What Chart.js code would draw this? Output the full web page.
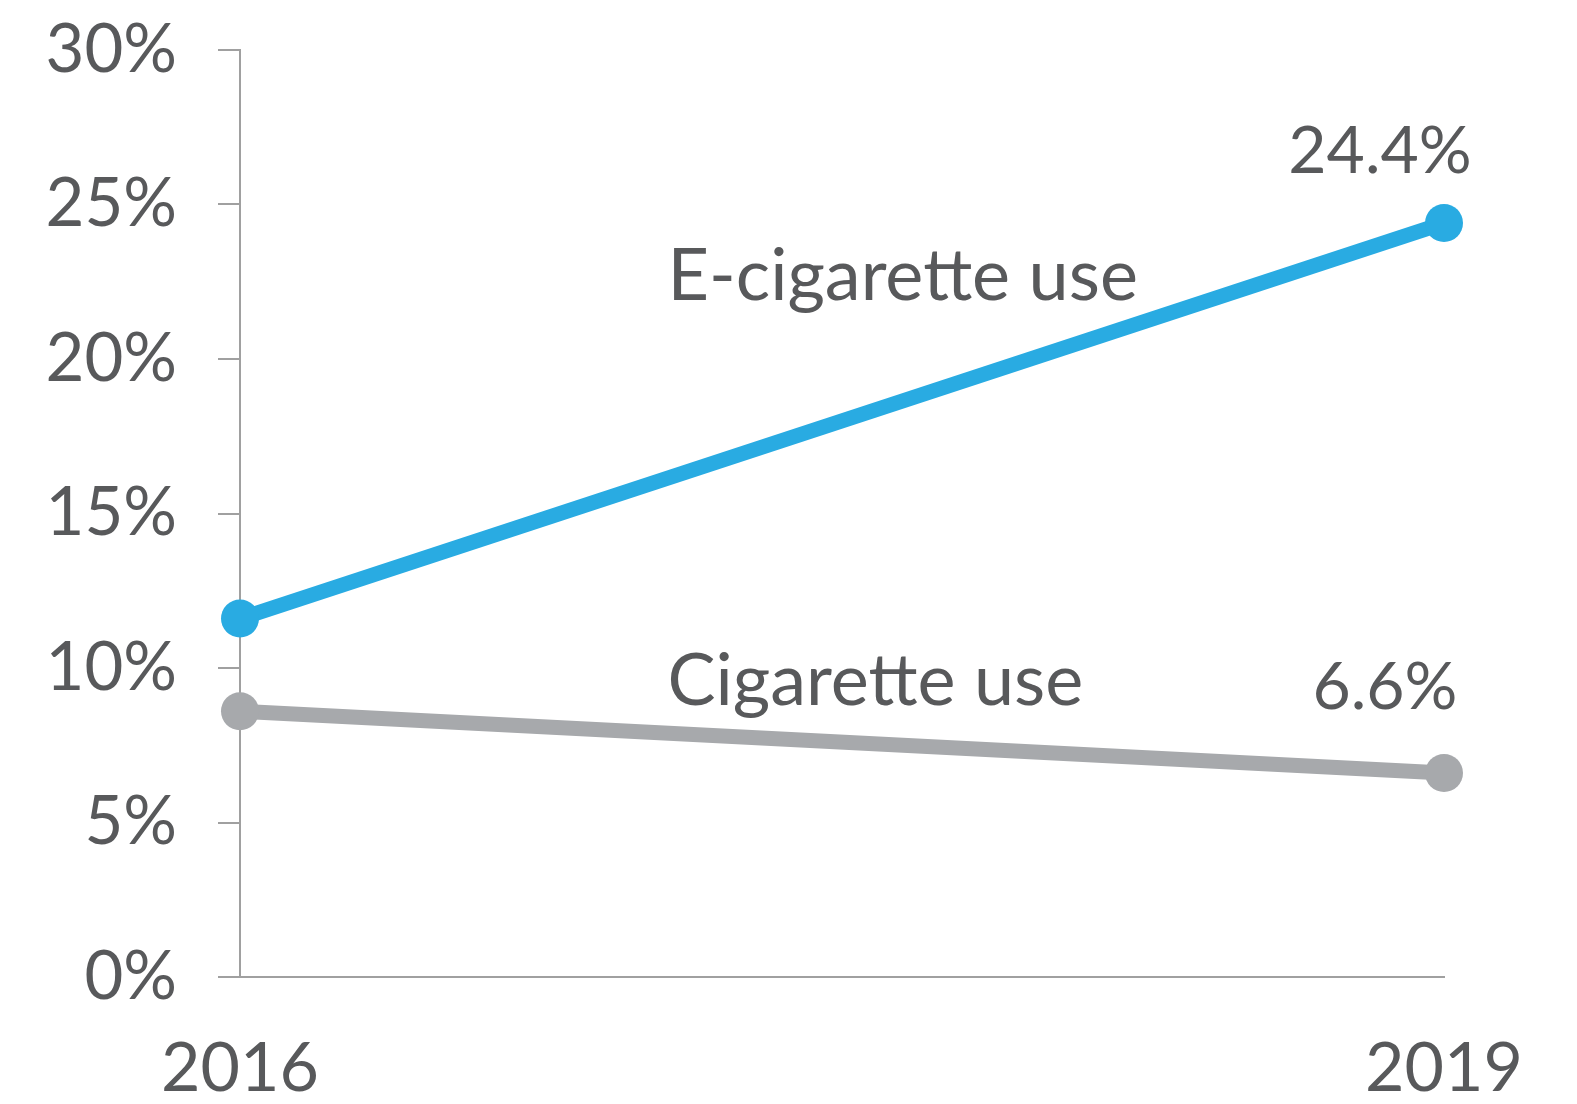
<!DOCTYPE html>
<html>
<head>
<meta charset="utf-8">
<script src="https://cdn.jsdelivr.net/npm/chart.js@4/dist/chart.umd.min.js"></script>
<style>
  html, body { margin: 0; padding: 0; background: #fff; }
  canvas { display: block; }
</style>
</head>
<body>
<canvas id="chart" width="1577" height="1104"></canvas>
<script>
// data
var years = ['2016', '2019'];
var ecigUse = [11.6, 24.4];
var cigUse = [8.6, 6.6];
var yTicks = [0, 5, 10, 15, 20, 25, 30];

var textColor = '#58595b';
var axisColor = '#a0a0a0';
var blue = '#29abe2';
var grey = '#a7a9ac';

// series names + end values, drawn after the lines
var labelsPlugin = {
  id: 'labels',
  afterDatasetsDraw: function (chart) {
    var c = chart.ctx;
    var xs = chart.scales.x;
    var ys = chart.scales.y;
    var mid = xs.left + (xs.right - xs.left) * 0.355;
    c.save();
    c.fillStyle = textColor;
    c.textBaseline = 'alphabetic';

    c.font = '72px Lato';
    c.textAlign = 'left';
    c.fillText('E-cigarette use', mid, ys.getPixelForValue(21.9));
    c.fillText('Cigarette use', mid, ys.getPixelForValue(8.8));

    c.font = '66px Lato';
    c.textAlign = 'center';
    var last = years.length - 1;
    c.fillText(ecigUse[last].toFixed(1) + '%', xs.getPixelForValue(last) - 64, ys.getPixelForValue(ecigUse[last]) - 50);
    c.fillText(cigUse[last].toFixed(1) + '%', xs.getPixelForValue(last) - 59, ys.getPixelForValue(cigUse[last]) - 64);
    c.restore();
  }
};

var ctx = document.getElementById('chart');
var chart = new Chart(ctx, {
  type: 'line',
  data: {
    labels: years,
    datasets: [
      {
        label: 'E-cigarette use',
        data: ecigUse,
        borderColor: blue,
        backgroundColor: blue,
        borderWidth: 15,
        pointRadius: 19,
        pointBorderWidth: 0,
        pointBackgroundColor: blue,
        clip: false
      },
      {
        label: 'Cigarette use',
        data: cigUse,
        borderColor: grey,
        backgroundColor: grey,
        borderWidth: 15,
        pointRadius: 19,
        pointBorderWidth: 0,
        pointBackgroundColor: grey,
        clip: false
      }
    ]
  },
  options: {
    responsive: false,
    animation: false,
    layout: {
      padding: { left: 0, right: 133, top: 50, bottom: 0 }
    },
    plugins: {
      legend: { display: false },
      tooltip: { enabled: false }
    },
    scales: {
      x: {
        offset: false,
        grid: { display: false, drawTicks: false },
        border: { display: true, color: axisColor, width: 2 },
        ticks: {
          color: textColor,
          font: { family: 'Lato', size: 68 },
          padding: 51,
          maxRotation: 0
        },
        afterFit: function (s) {
          s.height = 127;
          s.paddingLeft = 0;
          s.paddingRight = 0;
        }
      },
      y: {
        min: 0,
        max: 30,
        afterBuildTicks: function (s) {
          s.ticks = yTicks.map(function (v) { return { value: v }; });
        },
        grid: {
          drawOnChartArea: false,
          drawTicks: true,
          tickLength: 22,
          tickColor: axisColor,
          lineWidth: 2
        },
        border: { display: true, color: axisColor, width: 2 },
        ticks: {
          color: textColor,
          font: { family: 'Lato', size: 67 },
          padding: 41,
          callback: function (v) { return v + '%'; }
        },
        afterFit: function (s) {
          s.width = 240;
          s.paddingTop = 0;
          s.paddingBottom = 0;
        }
      }
    }
  },
  plugins: [labelsPlugin]
});
</script>
</body>
</html>
